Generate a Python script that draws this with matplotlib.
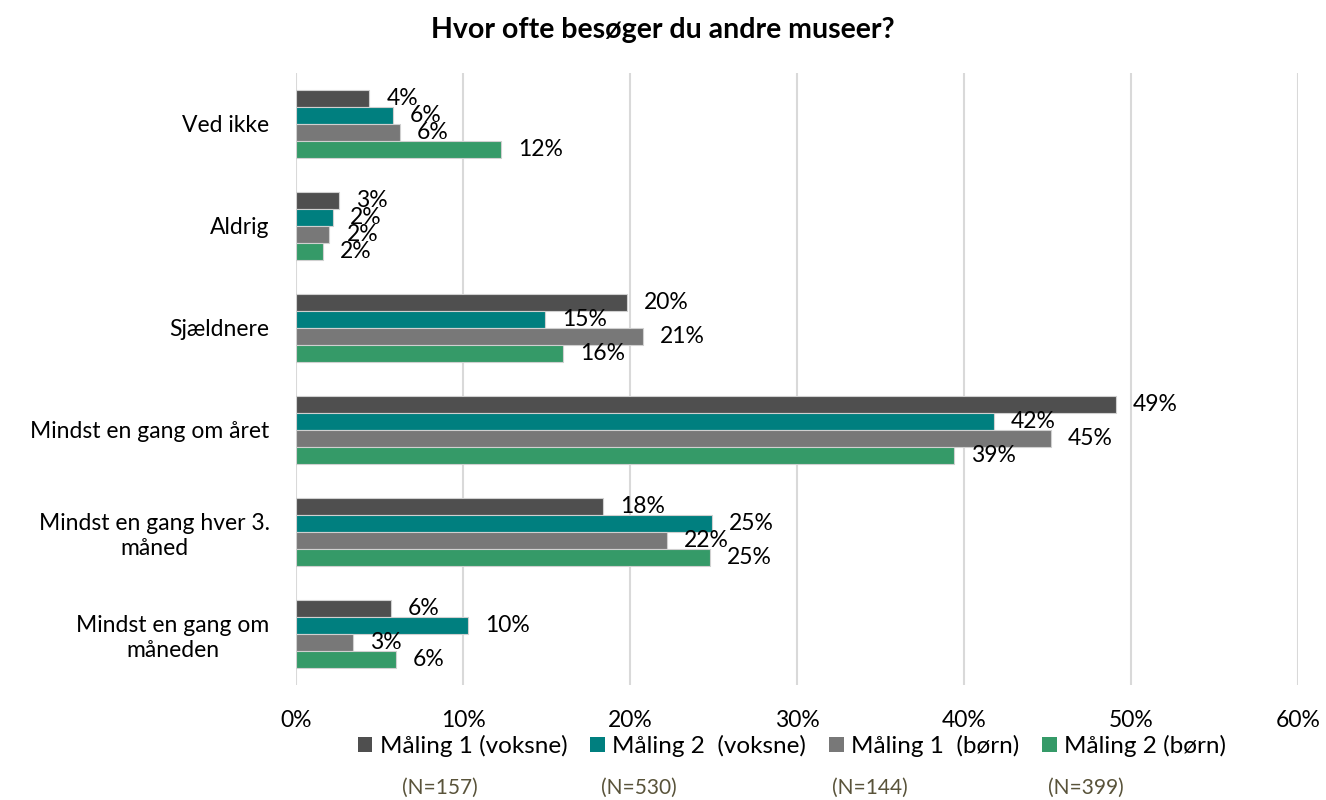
import matplotlib
matplotlib.use("Agg")
import matplotlib.pyplot as plt
import numpy as np
from matplotlib.patches import Patch

plt.rcParams['font.family'] = ['Lato', 'DejaVu Sans']

title = "Hvor ofte besøger du andre museer?"
categories = ["Ved ikke", "Aldrig", "Sjældnere", "Mindst en gang om året",
              "Mindst en gang hver 3.\nmåned", "Mindst en gang om\nmåneden"]
series_names = ["Måling 1 (voksne)", "Måling 2  (voksne)", "Måling 1  (børn)", "Måling 2 (børn)"]
n_labels = ["(N=157)", "(N=530)", "(N=144)", "(N=399)"]
maaling1_voksne = [4.4, 2.6, 19.8, 49.1, 18.4, 5.7]
maaling2_voksne = [5.8, 2.2, 14.9, 41.8, 24.9, 10.3]
maaling1_boern = [6.2, 2.0, 20.8, 45.2, 22.2, 3.4]
maaling2_boern = [12.3, 1.6, 16.0, 39.4, 24.8, 6.0]
series = [maaling1_voksne, maaling2_voksne, maaling1_boern, maaling2_boern]
colors = ["#4F4F4F", "#007F7F", "#787878", "#359A68"]
xticks = [0, 10, 20, 30, 40, 50, 60]

fig = plt.figure(figsize=(13.26, 8), dpi=100)
ax = fig.add_axes([296/1326, 1-685/800, (1298-296)/1326, (685-73)/800])

n = len(categories)
y = np.arange(n)
bh = 0.1667
for i, (vals, c) in enumerate(zip(series, colors)):
    pos = y + (i - 1.5) * bh
    ax.barh(pos, vals, height=bh, color=c, edgecolor="#D0D0D0", linewidth=0.8, zorder=3)
    for p, v in zip(pos, vals):
        ax.annotate(f"{round(v)}%", xy=(v, p), xytext=(17, 0), textcoords="offset pixels",
                    ha="left", va="center", fontsize=16.5, color="black", zorder=4)

ax.set_ylim(n - 0.5, -0.5)
ax.set_xlim(0, 60)
ax.set_xticks(xticks)
ax.set_xticklabels([f"{t}%" for t in xticks], fontsize=16.5)
ax.set_yticks(y)
ax.set_yticklabels(categories, fontsize=16.5, multialignment="center", linespacing=1.25)
ax.tick_params(axis="both", length=0)
ax.tick_params(axis="y", pad=19)
ax.tick_params(axis="x", pad=18)
ax.grid(axis="x", color="#D9D9D9", linewidth=1.5, zorder=0)
for s in ax.spines.values():
    s.set_visible(False)

fig.text(0.5, 1-30/800, title, ha="center", va="center", fontsize=20.5, fontweight="bold")

handles = [Patch(facecolor=c, edgecolor="none") for c in colors]
leg = fig.legend(handles, series_names, loc="center", bbox_to_anchor=(792/1326, 1-746/800),
                 ncol=4, frameon=False, fontsize=17.5, handlelength=0.6, handleheight=0.6,
                 handletextpad=0.3, columnspacing=0.95, borderpad=0.0)

n_x = [440, 639, 870, 1086]
for xx, t in zip(n_x, n_labels):
    fig.text(xx/1326, 1-788/800, t, ha="center", va="center", fontsize=15, color="#59533A")

fig.savefig("out.png", dpi=100)
